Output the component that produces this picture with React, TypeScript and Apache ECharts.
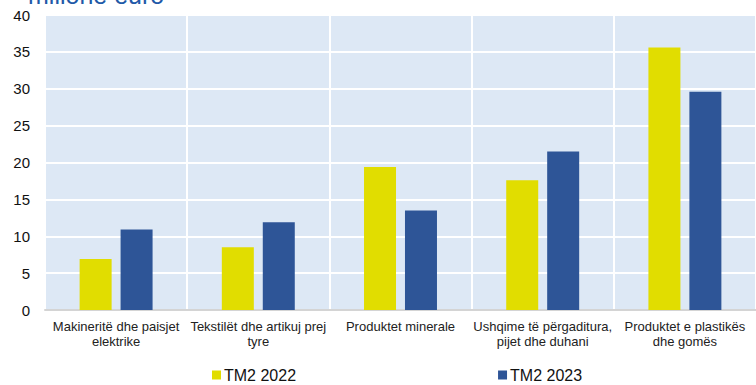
import React, { useEffect, useRef } from "react";
import * as echarts from "echarts";

const categories = [
  "Makineritë dhe paisjet\nelektrike",
  "Tekstilët dhe artikuj prej\ntyre",
  "Produktet minerale",
  "Ushqime të përgaditura,\npijet dhe duhani",
  "Produktet e plastikës\ndhe gomës",
];
const tm2022 = [6.9, 8.5, 19.4, 17.6, 35.6];
const tm2023 = [10.9, 11.9, 13.5, 21.5, 29.6];
const seriesNames = ["TM2 2022", "TM2 2023"];
const unitLabel = "milionë euro";

const FONT = "Liberation Sans, Arial, sans-serif";

export default function App() {
  const ref = useRef<HTMLDivElement>(null);

  useEffect(() => {
    if (!ref.current) return;
    const chart = echarts.init(ref.current, null, { renderer: "svg" });
    chart.setOption({
      animation: false,
      backgroundColor: "#ffffff",
      textStyle: { fontFamily: FONT },
      graphic: [
        {
          type: "text",
          x: 28,
          y: 7,
          style: {
            text: unitLabel,
            fontFamily: FONT,
            fontSize: 25,
            fill: "#2159a8",
            verticalAlign: "bottom",
          },
        },
      ],
      legend: {
        left: 207,
        top: 362,
        itemWidth: 9,
        itemHeight: 9,
        itemGap: 202,
        icon: "rect",
        textStyle: { fontSize: 16, color: "#111", fontFamily: FONT, padding: [0, 0, 0, -2] },
        data: seriesNames,
      },
      grid: {
        left: 45,
        right: 0,
        top: 15,
        bottom: 75,
        show: true,
        backgroundColor: "#dde8f5",
        borderWidth: 0,
      },
      xAxis: {
        type: "category",
        data: categories,
        axisLine: { show: true, lineStyle: { color: "#d4d4d4", width: 2 } },
        axisTick: { show: false },
        splitLine: { show: true, lineStyle: { color: "#ffffff", width: 2 } },
        axisLabel: {
          interval: 0,
          fontSize: 13,
          lineHeight: 15,
          color: "#222",
          margin: 9,
          fontFamily: FONT,
        },
      },
      yAxis: {
        type: "value",
        min: 0,
        max: 40,
        interval: 5,
        axisLine: { show: false },
        axisTick: { show: false },
        splitLine: { show: true, lineStyle: { color: "#ffffff", width: 2 } },
        axisLabel: { fontSize: 15, color: "#111", margin: 15, fontFamily: FONT },
      },
      series: [
        {
          name: seriesNames[0],
          type: "bar",
          data: tm2022,
          barWidth: 32,
          barGap: "28%",
          itemStyle: { color: "#e1dd00" },
        },
        {
          name: seriesNames[1],
          type: "bar",
          data: tm2023,
          barWidth: 32,
          itemStyle: { color: "#2e5597" },
        },
      ],
    });
    return () => chart.dispose();
  }, []);

  return (
    <div
      ref={ref}
      style={{ width: 756, height: 385, position: "absolute", left: 0, top: 0 }}
    />
  );
}
